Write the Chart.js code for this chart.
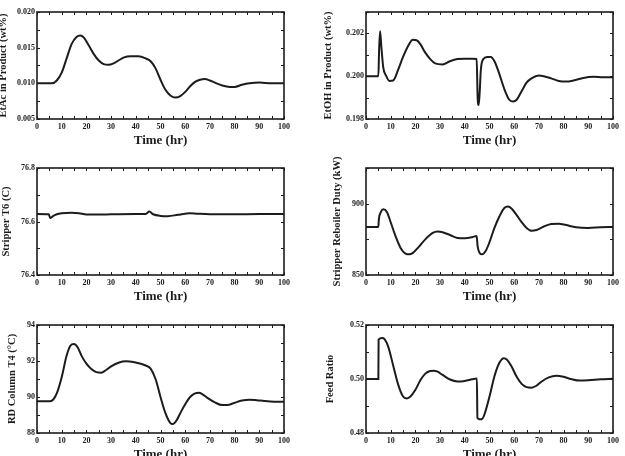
<!DOCTYPE html>
<html>
<head>
<meta charset="utf-8">
<script src="https://cdn.jsdelivr.net/npm/chart.js@4/dist/chart.umd.min.js"></script>
<style>
  html, body { margin: 0; padding: 0; background: #fff; overflow: hidden; }
  #wrap { position: relative; width: 625px; height: 456px; overflow: hidden; background: #fff; }
  #wrap canvas { position: absolute; }
</style>
</head>
<body>
<div id="wrap"></div>
<script>
// values, time in hr
const etacTime = [0, 5, 6, 8, 10, 12, 14, 16, 17.5, 19, 21, 23, 25, 27, 29, 31, 33, 35, 38, 41, 44, 46, 48, 50, 52, 54, 56, 58, 60, 62, 64, 66, 68, 70, 72, 75, 78, 80, 83, 86, 90, 95, 100]
const etacValue = [0.0100, 0.0100, 0.0100, 0.0104, 0.0115, 0.0135, 0.0155, 0.0165, 0.0167, 0.0164, 0.0153, 0.0141, 0.0132, 0.0127, 0.0126, 0.0128, 0.0132, 0.0136, 0.0138, 0.0138, 0.0135, 0.0131, 0.0121, 0.0105, 0.0091, 0.0083, 0.0080, 0.0082, 0.0088, 0.0096, 0.0102, 0.0105, 0.0106, 0.0104, 0.0101, 0.0097, 0.0095, 0.0095, 0.0098, 0.0100, 0.0101, 0.0100, 0.0100]

const etohTime = [0, 5, 5.3, 5.7, 6.2, 7, 8, 9.5, 11, 13, 15, 17, 19, 20.5, 22, 24, 26, 28, 31, 34, 37, 40, 43, 44.8, 45.2, 45.6, 46, 46.5, 47.5, 49, 50.5, 52, 54, 56, 58, 59.5, 61, 63, 65, 67, 70, 72, 75, 78, 81, 84, 88, 92, 96, 100]
const etohValue = [0.2000, 0.2000, 0.2012, 0.2021, 0.2014, 0.2004, 0.20005, 0.19978, 0.1998, 0.2003, 0.2009, 0.2014, 0.2017, 0.20168, 0.2015, 0.2011, 0.2008, 0.2006, 0.20055, 0.2007, 0.2008, 0.20082, 0.20082, 0.2008, 0.1990, 0.19865, 0.1992, 0.2003, 0.2008, 0.2009, 0.2009, 0.2007, 0.2001, 0.1994, 0.1989, 0.19882, 0.1989, 0.1993, 0.1997, 0.1999, 0.20003, 0.2000, 0.1999, 0.19978, 0.19975, 0.1998, 0.19992, 0.19997, 0.19995, 0.19995]

const t6Time = [0, 4.8, 5.3, 6.5, 8, 10, 14, 17, 20, 25, 30, 40, 44, 45.5, 47, 50, 53, 57, 62, 65, 70, 80, 90, 100]
const t6Value = [76.628, 76.627, 76.613, 76.620, 76.627, 76.631, 76.633, 76.631, 76.626, 76.626, 76.627, 76.628, 76.628, 76.637, 76.627, 76.621, 76.620, 76.625, 76.631, 76.629, 76.627, 76.627, 76.628, 76.628]

const dutyTime = [0, 5, 5.2, 6, 7, 8.5, 10, 12, 14, 16, 17.5, 19, 21, 24, 27, 29, 31, 34, 37, 40, 43, 44.8, 45.2, 46, 47, 48.5, 50, 52, 54, 56, 57.5, 59, 61, 63, 65, 67, 69, 72, 75, 78, 81, 85, 90, 95, 100]
const dutyValue = [883.7, 883.7, 889, 894, 896, 894, 887, 877, 869, 865, 864.5, 865.5, 869, 875, 879.5, 880.5, 880, 878, 876, 875.8, 876.5, 877.3, 870, 865.5, 864.5, 867, 873, 883, 891, 897, 898, 896.5, 892, 887, 883, 881, 881.5, 884, 885.8, 886, 885, 883.5, 883, 883.5, 883.7]

const t4Time = [0, 5, 6.5, 8, 10, 12, 13.5, 15, 16.5, 18, 20, 22, 24, 26, 28, 30, 33, 36, 39, 42, 44, 46, 48, 50, 52, 54, 55, 56.5, 58, 60, 62, 64, 65.5, 67, 69, 72, 75, 77, 80, 83, 86, 89, 92, 96, 100]
const t4Value = [89.76, 89.76, 89.85, 90.2, 91.1, 92.3, 92.85, 92.95, 92.75, 92.3, 91.85, 91.55, 91.38, 91.35, 91.5, 91.7, 91.9, 91.98, 91.95, 91.85, 91.75, 91.58, 91.0, 90.0, 89.1, 88.55, 88.5, 88.7, 89.1, 89.6, 90.0, 90.2, 90.23, 90.15, 89.95, 89.7, 89.55, 89.55, 89.68, 89.8, 89.85, 89.82, 89.78, 89.74, 89.73]

const feedTime = [0, 5, 5.1, 6.5, 7.5, 9, 11, 13, 15, 16.5, 18, 20, 22, 24, 26, 27.5, 29, 31, 34, 37, 40, 43, 44.9, 45.1, 46, 47, 48, 50, 52, 54, 55.8, 57, 59, 61, 63, 65, 67, 69, 71, 74, 77, 80, 83, 86.5, 90, 95, 100]
const feedValue = [0.5000, 0.5000, 0.5146, 0.5152, 0.5148, 0.5120, 0.5050, 0.4980, 0.4935, 0.4928, 0.4935, 0.4960, 0.4995, 0.5020, 0.5030, 0.5031, 0.5027, 0.5015, 0.4998, 0.4991, 0.4993, 0.4999, 0.5002, 0.4856, 0.4851, 0.4852, 0.4870, 0.4935, 0.5010, 0.5060, 0.5077, 0.5072, 0.5045, 0.5008, 0.4982, 0.4970, 0.4968, 0.4975, 0.4990, 0.5006, 0.5012, 0.5008, 0.5000, 0.4994, 0.4995, 0.4999, 0.5001]

// tick marks every 5 hr, labels every 10 hr
const timeTicks = [0, 5, 10, 15, 20, 25, 30, 35, 40, 45, 50, 55, 60, 65, 70, 75, 80, 85, 90, 95, 100]
const timeLabels = [0, 10, 20, 30, 40, 50, 60, 70, 80, 90, 100]

const SERIF = '"Liberation Serif", "DejaVu Serif", serif'
const INK = '#1c1c1c'

// box round the plot with small inward ticks on all four sides
const frame = {
  id: 'frame',
  afterDatasetsDraw(chart) {
    const { ctx, chartArea: a, scales: { x, y } } = chart
    ctx.save()
    ctx.strokeStyle = INK
    ctx.lineWidth = 1
    ctx.beginPath()
    x.ticks.forEach(t => {
      const px = Math.round(x.getPixelForValue(t.value)) + 0.5
      ctx.moveTo(px, a.bottom); ctx.lineTo(px, a.bottom - 3)
      ctx.moveTo(px, a.top); ctx.lineTo(px, a.top + 3)
    })
    y.ticks.forEach(t => {
      const py = Math.round(y.getPixelForValue(t.value)) + 0.5
      ctx.moveTo(a.left, py); ctx.lineTo(a.left + 3, py)
      ctx.moveTo(a.right, py); ctx.lineTo(a.right - 3, py)
    })
    ctx.stroke()
    ctx.lineWidth = 1.6
    ctx.strokeRect(a.left, a.top, a.right - a.left, a.bottom - a.top)
    ctx.restore()
  }
}

function makePanel(p) {
  const H = 160
  const canvas = document.createElement('canvas')
  canvas.width = p.w
  canvas.height = H
  canvas.style.left = p.cx + 'px'
  canvas.style.top = p.cy + 'px'
  document.getElementById('wrap').appendChild(canvas)

  const left = p.left - p.cx
  const top = p.top - p.cy
  const bottom = p.bottom - p.cy
  const yTitleSize = 10.5
  const xTitleSize = 13

  new Chart(canvas.getContext('2d'), {
    type: 'line',
    data: {
      datasets: [{
        data: p.time.map((t, i) => ({ x: t, y: p.value[i] })),
        borderColor: INK,
        borderWidth: 2,
        pointRadius: 0,
        cubicInterpolationMode: 'monotone',
        fill: false
      }]
    },
    plugins: [frame],
    options: {
      responsive: false,
      animation: false,
      events: [],
      layout: { padding: { left: 0, top: top, right: p.w - (p.right - p.cx), bottom: 0 } },
      plugins: { legend: { display: false }, tooltip: { enabled: false } },
      scales: {
        x: {
          type: 'linear',
          min: 0,
          max: 100,
          afterFit(scale) { scale.height = H - bottom },
          afterBuildTicks(scale) { scale.ticks = timeTicks.map(v => ({ value: v })) },
          grid: { display: false, drawTicks: false },
          border: { display: false },
          ticks: {
            autoSkip: false,
            maxRotation: 0,
            padding: 3,
            color: INK,
            font: { family: SERIF, size: 8, weight: 'bold' },
            callback: v => timeLabels.includes(v) ? String(v) : ''
          },
          title: {
            display: true,
            text: 'Time (hr)',
            color: INK,
            font: { family: SERIF, size: xTitleSize, weight: 'bold', lineHeight: 1.2 },
            padding: { top: 0, bottom: (H - (p.xTitleY - p.cy)) - xTitleSize * 0.6 }
          }
        },
        y: {
          min: p.min,
          max: p.max,
          afterFit(scale) { scale.width = left },
          afterBuildTicks(scale) { scale.ticks = p.yTicks.map(v => ({ value: v })) },
          grid: { display: false, drawTicks: false },
          border: { display: false },
          ticks: {
            padding: 2,
            color: INK,
            font: { family: SERIF, size: 8, weight: 'bold' },
            callback: v => p.yLabels.includes(v) ? v.toFixed(p.digits) : ''
          },
          title: {
            display: true,
            text: p.yTitle,
            color: INK,
            font: { family: SERIF, size: yTitleSize, weight: 'bold', lineHeight: 1.2 },
            padding: { top: (p.yTitleX - p.cx) - yTitleSize * 0.6, bottom: 0 }
          }
        }
      }
    }
  })
}

makePanel({
  cx: 0, cy: 0, w: 310, left: 37, right: 284, top: 12, bottom: 119, xTitleY: 141, yTitleX: 3,
  time: etacTime, value: etacValue, min: 0.005, max: 0.020, digits: 3,
  yTicks: [0.005, 0.0075, 0.010, 0.0125, 0.015, 0.0175, 0.020], yLabels: [0.005, 0.010, 0.015, 0.020],
  yTitle: 'EtAc in Product (wt%)'
})
makePanel({
  cx: 310, cy: 0, w: 315, left: 366, right: 613, top: 12, bottom: 119, xTitleY: 141, yTitleX: 328,
  time: etohTime, value: etohValue, min: 0.198, max: 0.203, digits: 3,
  yTicks: [0.198, 0.199, 0.200, 0.201, 0.202, 0.203], yLabels: [0.198, 0.200, 0.202],
  yTitle: 'EtOH in Product (wt%)'
})
makePanel({
  cx: 0, cy: 150, w: 310, left: 37, right: 284, top: 168, bottom: 275, xTitleY: 297, yTitleX: 6,
  time: t6Time, value: t6Value, min: 76.4, max: 76.8, digits: 1,
  yTicks: [76.4, 76.5, 76.6, 76.7, 76.8], yLabels: [76.4, 76.6, 76.8],
  yTitle: 'Stripper T6 (C)'
})
makePanel({
  cx: 310, cy: 150, w: 315, left: 366, right: 613, top: 168, bottom: 275, xTitleY: 297, yTitleX: 337,
  time: dutyTime, value: dutyValue, min: 850, max: 925, digits: 0,
  yTicks: [850, 875, 900, 925], yLabels: [850, 900],
  yTitle: 'Stripper Reboiler Duty (kW)'
})
makePanel({
  cx: 0, cy: 300, w: 310, left: 37, right: 284, top: 325, bottom: 433, xTitleY: 455, yTitleX: 12,
  time: t4Time, value: t4Value, min: 88, max: 94, digits: 0,
  yTicks: [88, 89, 90, 91, 92, 93, 94], yLabels: [88, 90, 92, 94],
  yTitle: 'RD Column T4 (°C)'
})
makePanel({
  cx: 310, cy: 300, w: 315, left: 366, right: 613, top: 325, bottom: 433, xTitleY: 455, yTitleX: 330,
  time: feedTime, value: feedValue, min: 0.48, max: 0.52, digits: 2,
  yTicks: [0.48, 0.49, 0.50, 0.51, 0.52], yLabels: [0.48, 0.50, 0.52],
  yTitle: 'Feed Ratio'
})
</script>
</body>
</html>
